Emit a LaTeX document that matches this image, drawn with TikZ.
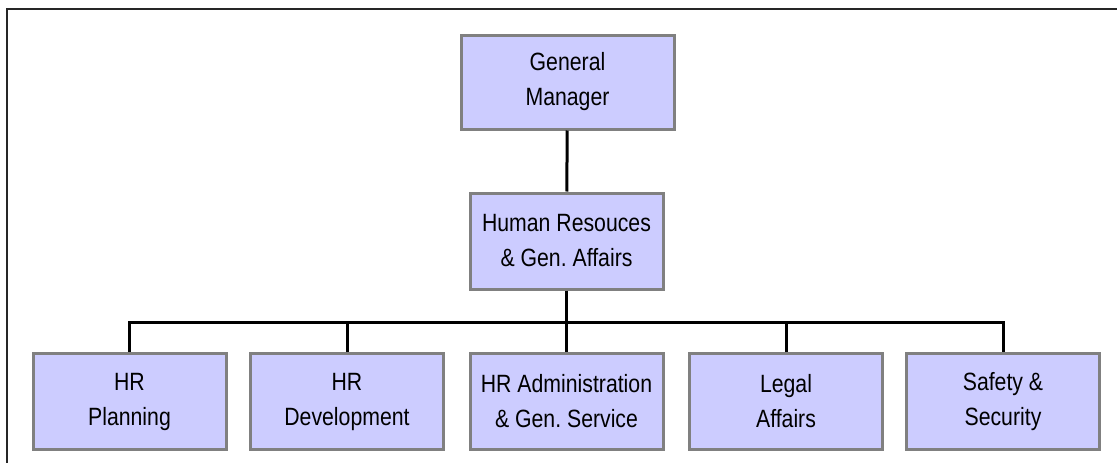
\documentclass[tikz,border=0pt]{standalone}
\usepackage{fontspec}
\setmainfont{Liberation Sans}[FakeStretch=0.85]
\usepackage{xcolor}
\usetikzlibrary{positioning,shadows}
\definecolor{boxfill}{RGB}{204,204,255}
\definecolor{boxline}{RGB}{128,128,128}
\frenchspacing
\tikzset{
    unit/.style={draw=boxline, line width=3pt, fill=boxfill, minimum width=193pt, minimum height=96pt,
        inner sep=0pt, align=center, font=\fontsize{25}{35}\selectfont,
        drop shadow={shadow xshift=1.5pt, shadow yshift=-1.5pt, fill=black!25}},
    link/.style={line width=3pt}
}
\begin{document}
\begin{tikzpicture}[x=1pt, y=-1pt]
    \useasboundingbox (0,0) rectangle (1117,463);
    \draw[line width=2pt, black!85] (7,463) -- (7,9) -- (1117,9);

    \node[unit, minimum width=213pt, minimum height=94pt] (gm) at (567.5,82) {General\\Manager};
    \node[unit] (hr) at (566.5,241) {Human Resouces\\\& Gen. Affairs};

    \node[unit] (plan) at (129.5,401.5) {HR\\Planning};
    \node[unit] (dev) at (347,401.5) {HR\\Development};
    \node[unit] (admin) at (566.5,401.5) {HR Administration\\\& Gen. Service};
    \node[unit] (legal) at (786,401.5) {Legal\\Affairs};
    \node[unit] (safety) at (1003,401.5) {Safety \&\\Security};

    \coordinate (bus) at (566.5,322);

    \draw[link] (gm) -- (hr);
    \draw[link] (hr) -- (admin);
    \draw[link] (plan.north) |- (bus) -| (safety.north);
    \draw[link] (dev.north) -- (dev.north |- bus);
    \draw[link] (legal.north) -- (legal.north |- bus);
\end{tikzpicture}
\end{document}
